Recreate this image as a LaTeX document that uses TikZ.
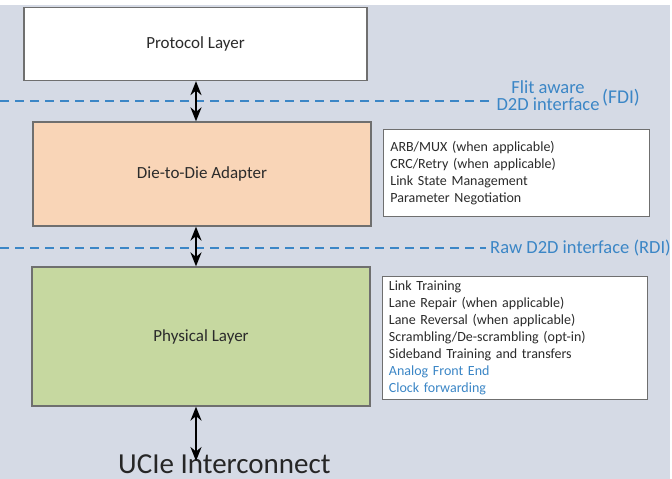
\documentclass[tikz,border=0pt]{standalone}
\usepackage{fontspec}
\setmainfont{Carlito}
\usetikzlibrary{arrows.meta}
\definecolor{bg}{HTML}{D5DAE5}
\definecolor{peach}{HTML}{F9D5B7}
\definecolor{phy}{HTML}{C6D8A0}
\definecolor{edge}{HTML}{6F6F6F}
\definecolor{ifblue}{HTML}{3B86C6}
\definecolor{txt}{HTML}{2B2B2B}
\begin{document}
\begin{tikzpicture}[x=1pt,y=-1pt,
  layer/.style={draw=edge,line width=1.2pt,text=txt,font=\fontsize{17}{20}\selectfont},
  infobox/.style={draw=edge,line width=0.8pt,fill=white,align=left,anchor=north west,
     font=\fontsize{14}{17}\selectfont,text=txt,inner xsep=6pt,inner ysep=3pt},
  ifline/.style={ifblue,dashed,dash pattern=on 9pt off 6pt,line width=1.1pt},
  iftext/.style={ifblue,font=\fontsize{18.5}{17}\selectfont},
  link/.style={{Stealth[length=14pt,width=11pt]}-{Stealth[length=14pt,width=11pt]},line width=2.2pt}]
\useasboundingbox (0,0) rectangle (672,479);
\fill[white] (0,0) rectangle (672,479);
\fill[bg] (0,5) rectangle (670,479);
% layers
\node[layer,fill=white,minimum width=343pt,minimum height=73pt] (proto) at (195.5,44) {Protocol Layer};
\node[layer,fill=peach,minimum width=338pt,minimum height=104pt] (d2d) at (202,174) {Die-to-Die Adapter};
\node[layer,fill=phy,minimum width=338pt,minimum height=139pt] (phy) at (201,336.5) {Physical Layer};
% interface lines
\coordinate (fdiL) at (0,101);
\coordinate (fdiR) at (492,101);
\coordinate (rdiL) at (0,248);
\coordinate (rdiR) at (486,248);
\draw[ifline] (fdiL) -- (fdiR);
\draw[ifline] (rdiL) -- (rdiR);
\node[iftext,align=center] (fdi) at (548,96) {Flit aware\\D2D interface};
\node[iftext,font=\fontsize{19.5}{17}\selectfont] (fdiab) at (621,98) {(FDI)};
\node[iftext,anchor=west,inner xsep=0pt] (rdi) at (490,248) {Raw D2D interface (RDI)};
% info boxes
\node[infobox,minimum width=266pt,minimum height=87pt,text width=252pt] (d2dinfo) at (383,129)
 {ARB/MUX (when applicable)\\CRC/Retry (when applicable)\\Link State Management\\Parameter Negotiation};
\node[infobox,minimum width=265pt,minimum height=123pt,text width=252pt] (phyinfo) at (382,276)
 {Link Training\\Lane Repair (when applicable)\\Lane Reversal (when applicable)\\Scrambling/De-scrambling (opt-in)\\Sideband Training and transfers\\\textcolor{ifblue}{Analog Front End}\\\textcolor{ifblue}{Clock forwarding}};
% connectors
\node[font=\fontsize{29}{32}\selectfont,text=black!85,anchor=base west,inner sep=0pt] (ucie) at (118,473) {UCIe Interconnect};
\coordinate (ubot) at (196,461);
\draw[link] (proto.south -| 196,0) -- (d2d.north -| 196,0);
\draw[link] (d2d.south -| 196,0) -- (phy.north -| 196,0);
\draw[link] (phy.south -| 196,0) -- (ubot);
\end{tikzpicture}
\end{document}
